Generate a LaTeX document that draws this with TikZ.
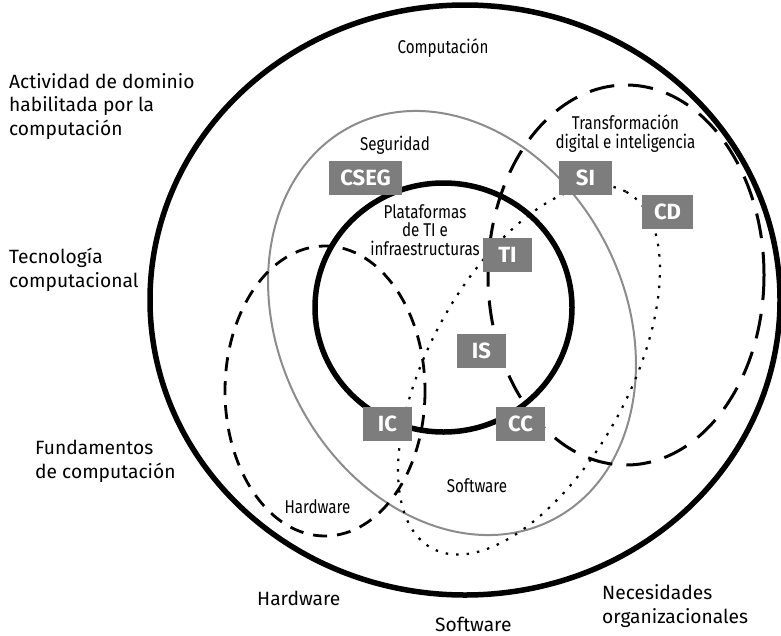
\documentclass[tikz,border=0pt]{standalone}
\usepackage{fontspec}
\setmainfont{Fira Sans}
\newfontfamily\condfont[FakeStretch=0.82]{Fira Sans}
\definecolor{boxgray}{HTML}{7D7D7D}
\definecolor{ringgray}{HTML}{8C8C8C}

\begin{document}
\begin{tikzpicture}[x=1pt,y=-1pt,
  outerlabel/.style={font=\fontsize{19.2}{23.5}\selectfont, align=left, anchor=base west, inner sep=0},
  innerlabel/.style={font=\condfont\fontsize{18.5}{18.5}\selectfont, align=center, anchor=base, inner sep=0},
  tag/.style={fill=boxgray, text=white, font=\bfseries\fontsize{22}{22}\selectfont, minimum height=34, inner sep=0},
  ring/.style={line width=5.5},
  secring/.style={draw=ringgray, line width=2},
  hwring/.style={line width=2.8, dash pattern=on 14pt off 10pt},
  dtring/.style={line width=3, dash pattern=on 25pt off 14pt},
  swring/.style={line width=2.2, dash pattern=on 2.5pt off 8pt},
]
\useasboundingbox (0,0) rectangle (781,635);

% outer ring and core ring
\draw[ring] (465,300) ellipse [x radius=315, y radius=295];
\draw[ring] (443.5,307.5) ellipse [x radius=128.5, y radius=124.5];

% overlapping areas
\draw[secring, rotate around={-63:(452,323)}] (452,323) ellipse [x radius=221, y radius=173];
\draw[hwring] (325,391) ellipse [x radius=100, y radius=145];
\draw[dtring] (626,275) ellipse [x radius=138, y radius=190];
\draw[swring, rotate around={61.4:(529,370)}] (529,370) ellipse [x radius=203, y radius=100];

% discipline tags
\node[tag, minimum width=73] (cseg) at (365.5,178) {CSEG};
\node[tag, minimum width=53] (si) at (585.5,178) {SI};
\node[tag, minimum width=51] (cd) at (667.5,212) {CD};
\node[tag, minimum width=49] (ti) at (507.5,254.5) {TI};
\node[tag, minimum width=49] (is) at (481.5,351) {IS};
\node[tag, minimum width=49] (cc) at (520.5,424) {CC};
\node[tag, minimum width=49] (ic) at (387.5,424) {IC};

% labels inside the rings (anchored on the baseline of the last line)
\node[innerlabel] (comp) at (443,53) {Computación};
\node[innerlabel] (seg) at (395,150) {Seguridad};
\node[innerlabel] (tdi) at (625.5,148) {Transformación\\digital e inteligencia};
\node[innerlabel] (plat) at (425,255) {Plataformas\\de TI e\\infraestructuras};
\node[innerlabel] (hwin) at (317.5,513) {Hardware};
\node[innerlabel] (swin) at (477,492) {Software};

% labels around the rings
\node[outerlabel] (act) at (9,135) {Actividad de dominio\\habilitada por la\\computación};
\node[outerlabel] (tec) at (9,287) {Tecnología\\computacional};
\node[outerlabel] (fun) at (35,478) {Fundamentos\\de computación};
\node[outerlabel] (hwout) at (257,605) {Hardware};
\node[outerlabel] (swout) at (435,631) {Software};
\node[outerlabel] (nec) at (602,623) {Necesidades\\organizacionales};
\end{tikzpicture}
\end{document}
